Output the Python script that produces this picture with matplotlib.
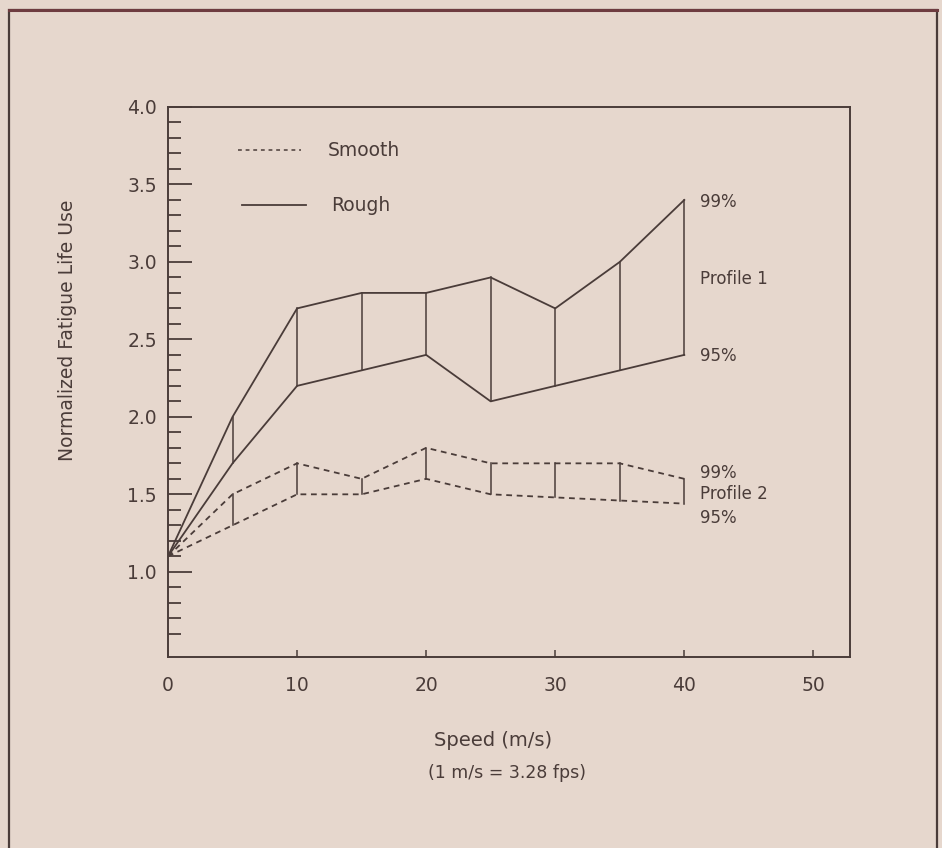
import numpy as np
import matplotlib
matplotlib.use("Agg")
import matplotlib.pyplot as plt
from matplotlib.patches import Rectangle
from matplotlib.ticker import FixedLocator

# data
speed = [0, 5, 10, 15, 20, 25, 30, 35, 40]
rough_99 = [1.1, 2.0, 2.7, 2.8, 2.8, 2.9, 2.7, 3.0, 3.4]
rough_95 = [1.1, 1.7, 2.2, 2.3, 2.4, 2.1, 2.2, 2.3, 2.4]
smooth_99 = [1.1, 1.5, 1.7, 1.6, 1.8, 1.7, 1.7, 1.7, 1.6]
smooth_95 = [1.1, 1.3, 1.5, 1.5, 1.6, 1.5, 1.48, 1.46, 1.44]
x_ticks = [0, 10, 20, 30, 40, 50]
y_ticks = [1.0, 1.5, 2.0, 2.5, 3.0, 3.5, 4.0]

bg = "#e6d7cd"
ink = "#4a3c39"
dash = (0, (3.2, 2.6))

plt.rcParams["font.family"] = "DejaVu Sans"
fig = plt.figure(figsize=(9.42, 8.48), dpi=100)
fig.patch.set_facecolor(bg)

# outer frame of the page
fig.patches.append(Rectangle((9 / 942, -0.05), 928 / 942, 1.05 - 10 / 848,
                             transform=fig.transFigure, fill=False,
                             edgecolor=ink, lw=1.6))
fig.add_artist(plt.Line2D([9 / 942, 937 / 942], [1 - 10 / 848] * 2,
                          transform=fig.transFigure, color="#6e3c40", lw=2.2))

ax = fig.add_axes([168 / 942, 1 - 657 / 848, (849.5 - 168) / 942, (657 - 107) / 848])
ax.set_facecolor(bg)
for s in ax.spines.values():
    s.set_color(ink)
    s.set_linewidth(1.4)

# profile 1 - rough
ax.plot(speed, rough_99, color=ink, lw=1.3)
ax.plot(speed, rough_95, color=ink, lw=1.3)
# profile 2 - smooth
ax.plot(speed, smooth_99, color=ink, lw=1.3, linestyle=dash)
ax.plot(speed, smooth_95, color=ink, lw=1.3, linestyle=dash)
# vertical connectors
for i in range(1, len(speed)):
    ax.plot([speed[i], speed[i]], [rough_95[i], rough_99[i]], color=ink, lw=1.1)
    ax.plot([speed[i], speed[i]], [smooth_95[i], smooth_99[i]], color=ink, lw=1.1)

ax.set_xlim(0, 52.8)
ax.set_ylim(0.45, 4.0)
ax.set_xticks(x_ticks)
ax.set_yticks(y_ticks)
ax.set_xticklabels([str(v) for v in x_ticks])
ax.set_yticklabels(["%.1f" % v for v in y_ticks])
minor = [round(v, 1) for v in np.arange(0.6, 4.0, 0.1) if abs(v * 2 - round(v * 2)) > 1e-6]
ax.yaxis.set_minor_locator(FixedLocator(minor))
ax.tick_params(axis="y", which="major", direction="in", length=17, width=1.3,
               color=ink, labelcolor=ink, labelsize=13.5, pad=-9)
ax.tick_params(axis="y", which="minor", direction="in", length=9, width=1.3, color=ink)
ax.tick_params(axis="x", which="major", direction="in", length=5, width=1.1,
               color=ink, labelcolor=ink, labelsize=13.5, pad=14)
for lab in ax.get_yticklabels():
    lab.set_horizontalalignment("right")
ax.yaxis.set_tick_params(pad=8)

# legend drawn by hand
ax.plot([5.4, 10.3], [3.72, 3.72], color=ink, lw=1.1, linestyle=(0, (2.5, 2.5)))
ax.text(12.4, 3.72, "Smooth", color=ink, fontsize=13.5, va="center")
ax.plot([5.7, 10.7], [3.365, 3.365], color=ink, lw=1.3)
ax.text(12.6, 3.365, "Rough", color=ink, fontsize=13.5, va="center")

# profile labels
ax.text(41.2, 3.385, "99%", color=ink, fontsize=12, va="center")
ax.text(41.2, 2.89, "Profile 1", color=ink, fontsize=12, va="center")
ax.text(41.2, 2.39, "95%", color=ink, fontsize=12, va="center")
ax.text(41.2, 1.64, "99%", color=ink, fontsize=12, va="center")
ax.text(41.2, 1.50, "Profile 2", color=ink, fontsize=12, va="center")
ax.text(41.2, 1.35, "95%", color=ink, fontsize=12, va="center")

fig.text(493 / 942, 1 - 740 / 848, "Speed (m/s)", color=ink, fontsize=14,
         ha="center", va="center")
fig.text(507 / 942, 1 - 773 / 848, "(1 m/s = 3.28 fps)", color=ink, fontsize=12.5,
         ha="center", va="center")
fig.text(68 / 942, 1 - 330 / 848, "Normalized Fatigue Life Use", color=ink,
         fontsize=13.5, rotation=90, ha="center", va="center")

fig.savefig("out.png", dpi=100, facecolor=bg)
